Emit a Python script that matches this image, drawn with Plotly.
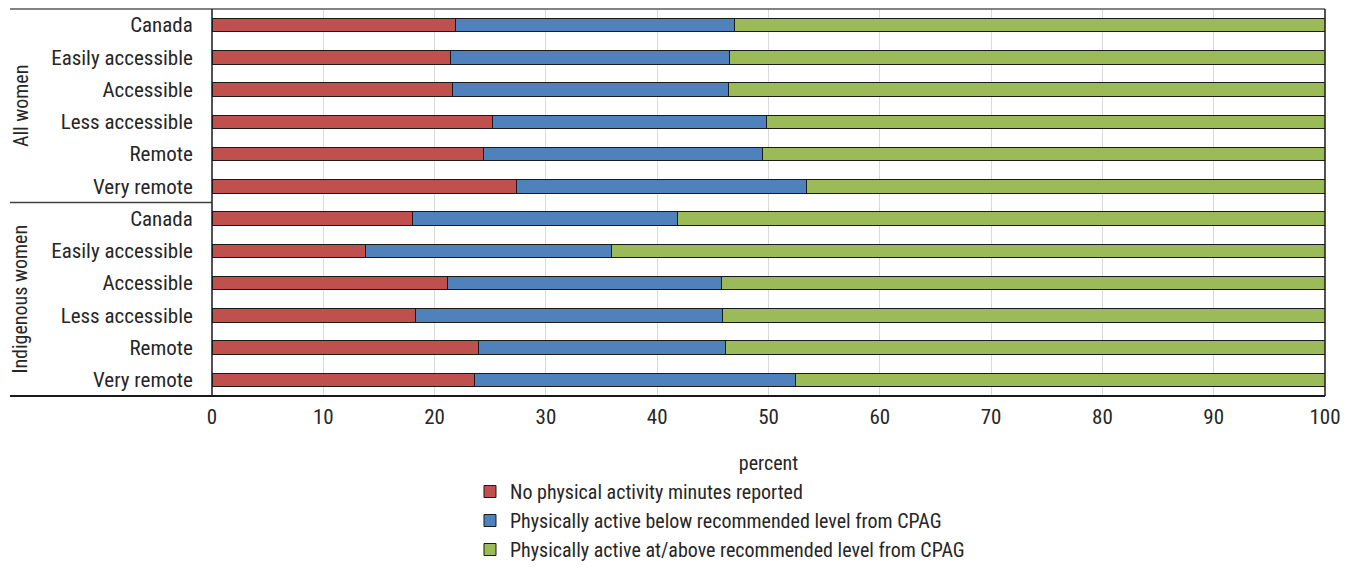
import plotly.graph_objects as go

categories = ["Canada", "Easily accessible", "Accessible", "Less accessible", "Remote", "Very remote",
              "Canada", "Easily accessible", "Accessible", "Less accessible", "Remote", "Very remote"]
groups = ["All women", "Indigenous women"]

no_activity = [21.9, 21.4, 21.6, 25.2, 24.4, 27.4,
               18.0, 13.8, 21.2, 18.3, 23.9, 23.6]
below_rec = [25.0, 25.1, 24.8, 24.6, 25.1, 26.0,
             23.8, 22.1, 24.6, 27.6, 22.2, 28.8]
at_above_rec = [53.1, 53.5, 53.6, 50.2, 50.5, 46.6,
                58.2, 64.1, 54.2, 54.1, 53.9, 47.6]

series_names = ["No physical activity minutes reported",
                "Physically active below recommended level from CPAG",
                "Physically active at/above recommended level from CPAG"]
colors = ["#C0504D", "#4F81BD", "#9BBB59"]
x_ticks = [0, 10, 20, 30, 40, 50, 60, 70, 80, 90, 100]

FONT = "Roboto Condensed, Liberation Sans Narrow, Arial Narrow, DejaVu Sans Condensed, sans-serif"
FS = 20
TXT = "#262626"
ypos = list(range(len(categories)))

fig = go.Figure()
for name, vals, col in zip(series_names, [no_activity, below_rec, at_above_rec], colors):
    fig.add_trace(go.Bar(
        y=ypos, x=vals, name=name, orientation="h",
        marker=dict(color=col, line=dict(color="#1a1a1a", width=1)),
    ))

fig.update_layout(
    width=1345, height=561,
    barmode="stack", bargap=0.58,
    paper_bgcolor="white", plot_bgcolor="white",
    margin=dict(l=204, r=28, t=1, b=172),
    font=dict(family=FONT, size=FS, color=TXT),
    showlegend=True,
    legend=dict(
        x=0.2318, y=-0.195, xanchor="left", yanchor="top",
        orientation="v", traceorder="normal",
        font=dict(family=FONT, size=FS, color=TXT),
        itemwidth=30, tracegroupgap=0,
        bgcolor="rgba(0,0,0,0)",
    ),
    xaxis=dict(
        range=[0, 100], tickvals=x_ticks, ticktext=[str(v) for v in x_ticks],
        showgrid=True, gridcolor="#d9d9d9", gridwidth=1,
        zeroline=False, showline=False,
        ticks="outside", ticklen=2, tickcolor="rgba(0,0,0,0)",
        tickfont=dict(family=FONT, size=21, color=TXT),
        title=dict(text="percent", standoff=27, font=dict(family=FONT, size=FS, color=TXT)),
        fixedrange=True,
    ),
    yaxis=dict(
        tickvals=ypos, ticktext=categories,
        range=[len(categories) - 0.5, -0.5],
        showgrid=False, zeroline=False, showline=False,
        ticks="outside", ticklen=14, tickcolor="rgba(0,0,0,0)",
        tickfont=dict(family=FONT, size=21, color=TXT),
        fixedrange=True,
    ),
)

left_ext = -0.1815
shapes = [
    dict(type="line", xref="paper", yref="paper", x0=left_ext, x1=1, y0=1, y1=1,
         line=dict(color="#595959", width=1.5)),
    dict(type="line", xref="paper", yref="paper", x0=left_ext, x1=0, y0=0.5, y1=0.5,
         line=dict(color="#404040", width=1.5)),
    dict(type="line", xref="paper", yref="paper", x0=left_ext, x1=1, y0=0, y1=0,
         line=dict(color="#1a1a1a", width=2)),
    dict(type="line", xref="paper", yref="paper", x0=0, x1=0, y0=0, y1=1,
         line=dict(color="#1a1a1a", width=1.5)),
    dict(type="line", xref="paper", yref="paper", x0=1, x1=1, y0=0, y1=1,
         line=dict(color="#1a1a1a", width=1.5)),
]
fig.update_layout(shapes=shapes)

for i, g in enumerate(groups):
    fig.add_annotation(
        text=g, xref="paper", yref="paper", x=-0.1722, y=0.75 - 0.5 * i,
        textangle=-90, showarrow=False, xanchor="center", yanchor="middle",
        borderpad=0,
        font=dict(family=FONT, size=FS, color=TXT),
    )

fig.write_html("out.html")
